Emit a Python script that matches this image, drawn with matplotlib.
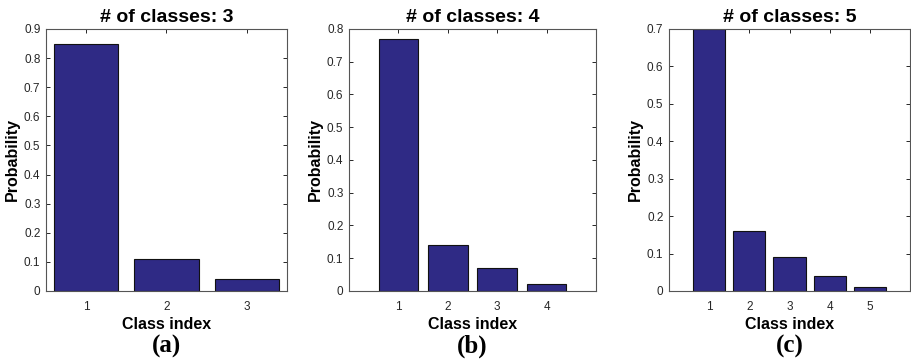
import numpy as np
import matplotlib.pyplot as plt
from matplotlib.ticker import FuncFormatter

# class probabilities for 3, 4 and 5 classes
p3 = [0.85, 0.11, 0.04]
p4 = [0.77, 0.14, 0.07, 0.02]
p5 = [0.70, 0.16, 0.09, 0.04, 0.01]
titles = ['# of classes: 3', '# of classes: 4', '# of classes: 5']
captions = ['(a)', '(b)', '(c)']

plt.rcParams['font.family'] = ['Liberation Sans', 'DejaVu Sans']

fig = plt.figure(figsize=(9.11, 3.61), dpi=100)
boxes = [[0.0505, 0.194, 0.2645, 0.7258],
         [0.3831, 0.194, 0.2711, 0.7258],
         [0.7344, 0.194, 0.2645, 0.7258]]
xlims = [(0.5, 3.5), (0, 5), (0, 6)]
ylims = [0.9, 0.8, 0.7]
bar_col = '#2f2a85'
axis_col = '#262626'

for i, p in enumerate([p3, p4, p5]):
    ax = fig.add_axes(boxes[i])
    x = np.arange(1, len(p) + 1)
    ax.bar(x, p, width=0.8, color=bar_col, edgecolor='#111111', linewidth=0.8, zorder=2)
    ax.set_xlim(*xlims[i])
    ax.set_ylim(0, ylims[i])
    ax.set_xticks(x)
    ax.set_yticks(np.arange(0, ylims[i] + 0.001, 0.1))
    ax.yaxis.set_major_formatter(FuncFormatter(lambda v, pos: '%g' % round(v, 2)))
    ax.tick_params(direction='in', length=3, width=0.7, top=True, right=True,
                   labelsize=8.5, colors=axis_col)
    ax.tick_params(axis='x', pad=7)
    ax.tick_params(axis='y', pad=4)
    for s in ax.spines.values():
        s.set_color('#555555')
        s.set_linewidth(0.8)
    ax.set_title(titles[i], fontsize=14, fontweight='bold', pad=5)
    ax.set_xlabel('Class index', fontsize=11.5, fontweight='bold', labelpad=3)
    ax.set_ylabel('Probability', fontsize=11.5, fontweight='bold', labelpad=3)
    ax.text(0.5, -0.168, captions[i], transform=ax.transAxes, ha='center', va='top',
            fontsize=18, fontweight='bold', family=['Liberation Serif', 'DejaVu Serif'])

plt.savefig('out.png', dpi=100)
